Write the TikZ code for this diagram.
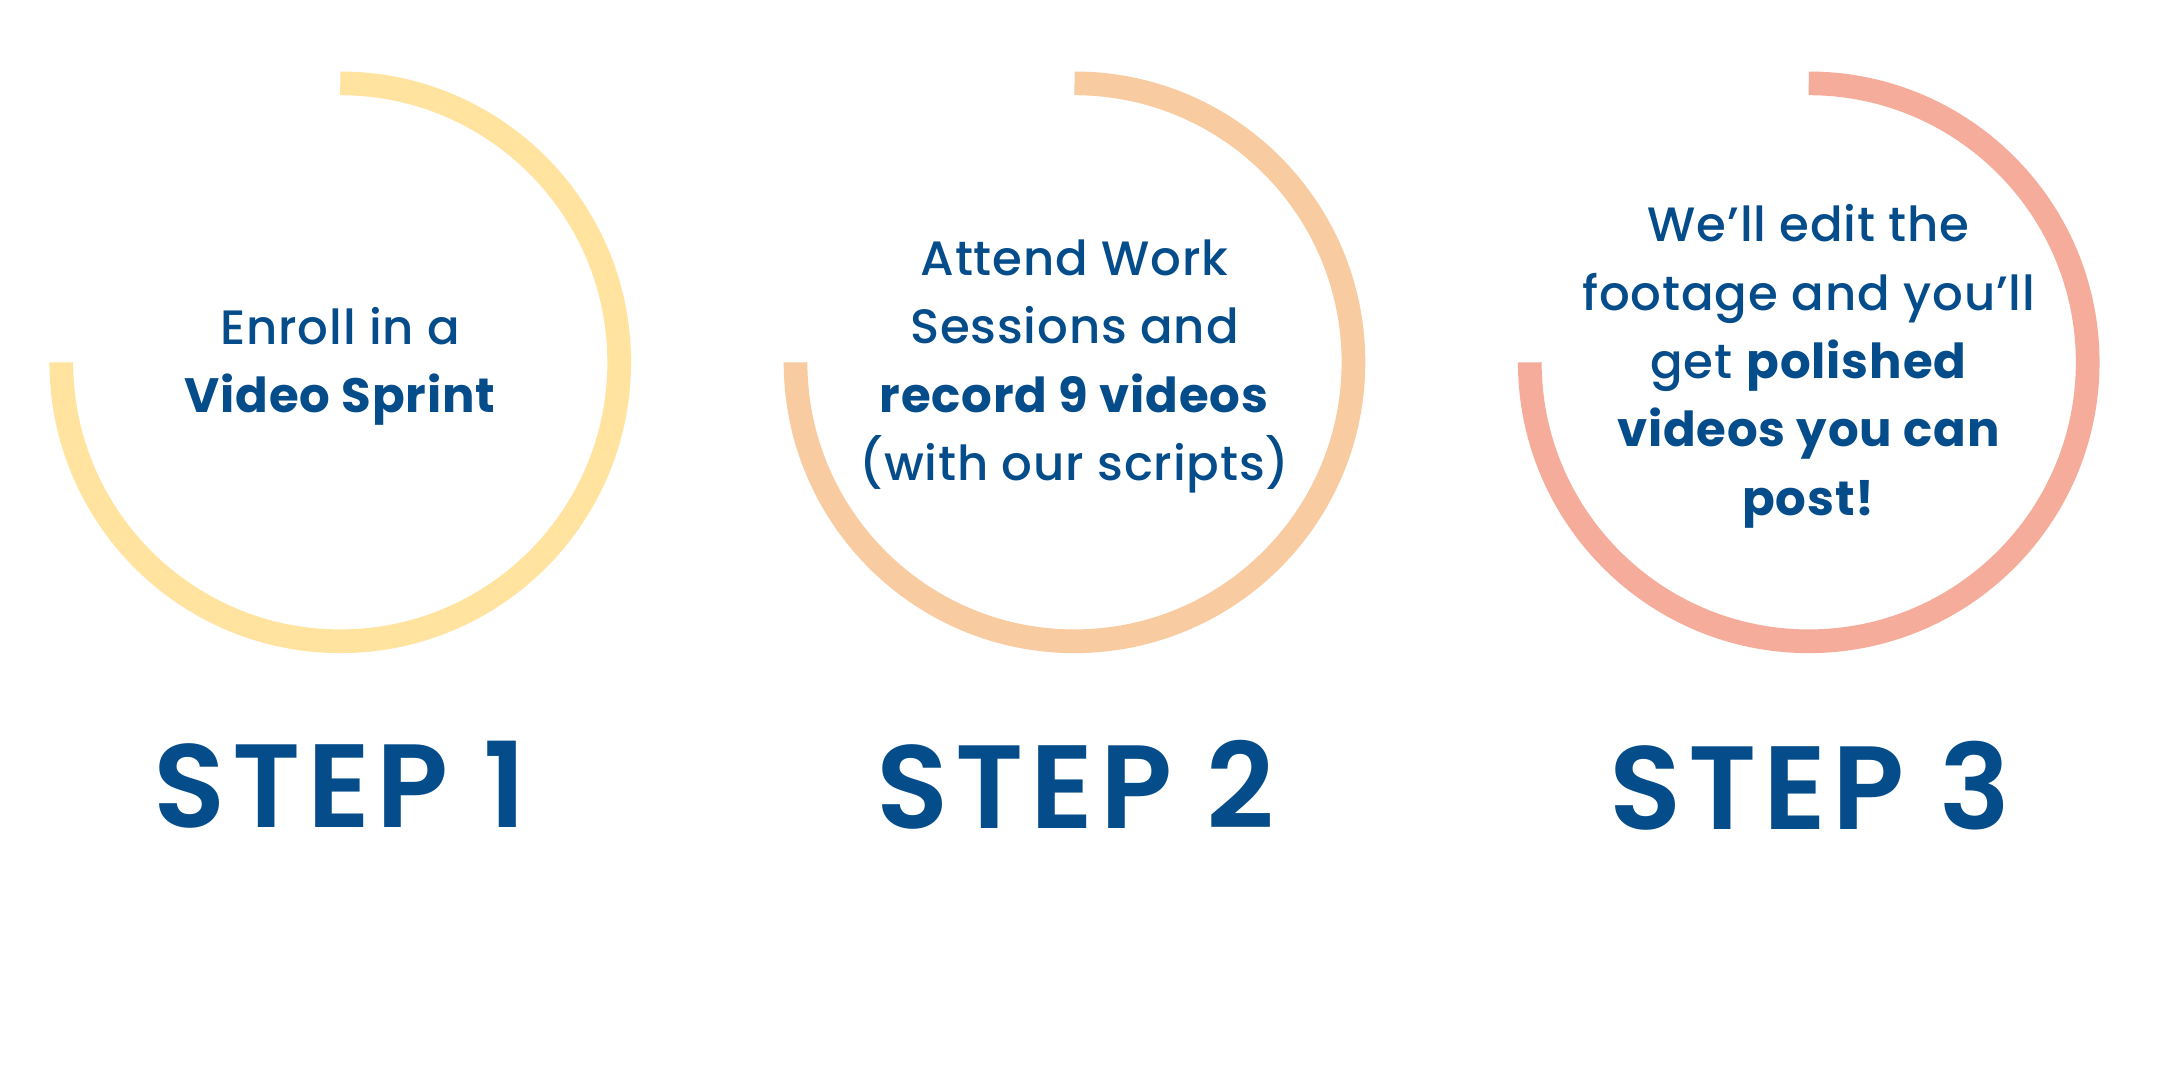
\documentclass[tikz,border=0pt]{standalone}
\usepackage{fontspec}
\setmainfont{Poppins}[UprightFont=* Medium, BoldFont=* Bold, LetterSpace=1.8]
\newfontfamily\stepfont{Poppins SemiBold}[LetterSpace=5.5]
\definecolor{navy}{RGB}{5,76,138}
\definecolor{ringA}{RGB}{255,227,159}
\definecolor{ringB}{RGB}{248,203,161}
\definecolor{ringC}{RGB}{245,172,155}
\begin{document}
\begin{tikzpicture}[x=0.5pt,y=-0.5pt,
  ring/.style={line width=8.6pt},
  body/.style={align=center,text=navy,font=\fontsize{17.5}{24.8}\selectfont},
  steplabel/.style={text=navy,font=\stepfont\fontsize{43}{43}\selectfont}]
\useasboundingbox (0,0) rectangle (1568,784);
\fill[white] (0,0) rectangle (1568,784);
\foreach \cx/\col in {247/ringA,780/ringB,1313/ringC}
  \draw[ring,\col] (\cx,60.5) arc[start angle=90,end angle=-180,radius=101.25pt];
\node[body] (t1) at (247,266) {Enroll in a\\\textbf{Video Sprint}};
\node[body] (t2) at (780,266) {Attend Work\\Sessions and\\\textbf{record 9 videos}\\(with our scripts)};
\node[body] (t3) at (1313,266) {We’ll edit the\\footage and you’ll\\get \textbf{polished}\\\textbf{videos you can}\\\textbf{post!}};
\node[steplabel] (s1) at (247,570) {STEP 1};
\node[steplabel] (s2) at (781,570) {STEP 2};
\node[steplabel] (s3) at (1314,570) {STEP 3};
\end{tikzpicture}
\end{document}
